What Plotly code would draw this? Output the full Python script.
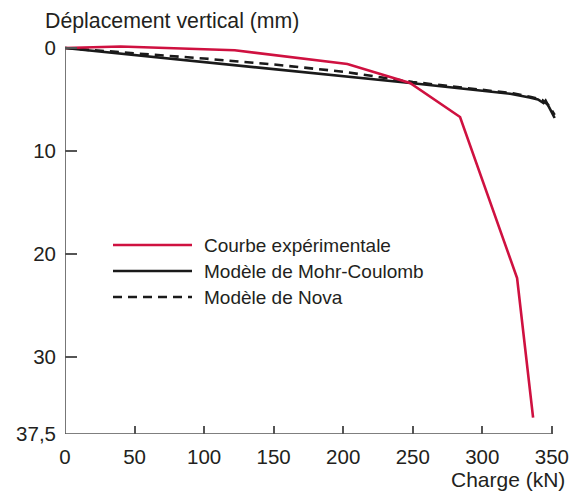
import plotly.graph_objects as go

# Load (kN) / vertical displacement (mm) curves
exp_charge = [0, 40, 122, 203, 248, 284, 325, 336.5]
exp_depl = [0, -0.15, 0.22, 1.55, 3.4, 6.7, 22.35, 35.9]

mc_charge = [0, 50, 100, 150, 200, 250, 300, 320, 334, 340, 344, 345.5, 349, 352]
mc_depl = [0, 0.67, 1.35, 2.05, 2.75, 3.42, 4.15, 4.45, 4.8, 5.0, 5.35, 5.1, 6.0, 6.8]

nova_charge = [0, 50, 100, 150, 200, 250, 300, 322, 335, 343, 348, 352]
nova_depl = [0, 0.5, 1.02, 1.6, 2.3, 3.3, 4.05, 4.4, 4.75, 5.05, 5.6, 6.5]

x_ticks = [0, 50, 100, 150, 200, 250, 300, 350]
y_ticks = [0, 10, 20, 30, 37.5]
y_ticktext = ["0", "10", "20", "30", "37,5"]

series_names = ["Courbe expérimentale", "Modèle de Mohr-Coulomb", "Modèle de Nova"]

RED = "#cf1140"
BLACK = "#1a1a1a"
AXIS = "#555555"
TEXT = "#231f20"
FONT = "Liberation Sans, Arial, sans-serif"

fig = go.Figure()
fig.add_trace(go.Scatter(x=mc_charge, y=mc_depl, mode="lines",
                         line=dict(color=BLACK, width=2.6), name=series_names[1]))
fig.add_trace(go.Scatter(x=nova_charge, y=nova_depl, mode="lines",
                         line=dict(color=BLACK, width=2.6, dash="9px,6px"), name=series_names[2]))
fig.add_trace(go.Scatter(x=exp_charge, y=exp_depl, mode="lines",
                         line=dict(color=RED, width=2.6), name=series_names[0]))

# axis lines
fig.add_shape(type="line", xref="x", yref="y", x0=0, x1=0, y0=0, y1=37.5,
              line=dict(color=AXIS, width=1.6))
fig.add_shape(type="line", xref="x", yref="y", x0=0, x1=350, y0=37.5, y1=37.5,
              line=dict(color=AXIS, width=1.6))

# hand-drawn legend
leg_rows = [(series_names[0], RED, "solid"),
            (series_names[1], BLACK, "solid"),
            (series_names[2], BLACK, "9px,6px")]
plot_left, plot_w = 65, 498
plot_bottom, plot_h = 434, 394


def px_x(p):
    return (p - plot_left) / plot_w


def px_y(p):
    return (plot_bottom - p) / plot_h


for i, (label, color, dash) in enumerate(leg_rows):
    yy = px_y(245 + 26 * i)
    fig.add_shape(type="line", xref="paper", yref="paper",
                  x0=px_x(113), x1=px_x(192), y0=yy, y1=yy,
                  line=dict(color=color, width=2.6, dash=dash))
    fig.add_annotation(xref="paper", yref="paper", x=px_x(202), y=yy,
                       xanchor="left", yanchor="middle", showarrow=False,
                       text=label, font=dict(size=19, color=TEXT, family=FONT))

fig.add_annotation(xref="paper", yref="paper", x=px_x(43), y=px_y(21),
                   xanchor="left", yanchor="middle", showarrow=False,
                   text="Déplacement vertical (mm)",
                   font=dict(size=21.3, color=TEXT, family=FONT))
fig.add_annotation(xref="paper", yref="paper", x=px_x(567), y=px_y(479),
                   xanchor="right", yanchor="middle", showarrow=False,
                   text="Charge (kN)", font=dict(size=21, color=TEXT, family=FONT))

fig.update_layout(
    width=573, height=491,
    margin=dict(l=65, r=10, t=40, b=57, autoexpand=False),
    paper_bgcolor="white", plot_bgcolor="white",
    showlegend=False,
    font=dict(family=FONT, size=20.5, color=TEXT),
    xaxis=dict(range=[0, 358], showgrid=False, zeroline=False, showline=False,
               automargin=False,
               tickvals=x_ticks, ticks="inside", ticklen=8, tickwidth=1.5,
               tickcolor=AXIS, ticklabelstandoff=8),
    yaxis=dict(range=[37.5, -0.78], showgrid=False, zeroline=False, showline=False,
               automargin=False,
               tickvals=y_ticks, ticktext=y_ticktext, ticks="inside", ticklen=12,
               tickwidth=1.5, tickcolor=AXIS, ticklabelstandoff=8),
)

fig.write_html("out.html")
